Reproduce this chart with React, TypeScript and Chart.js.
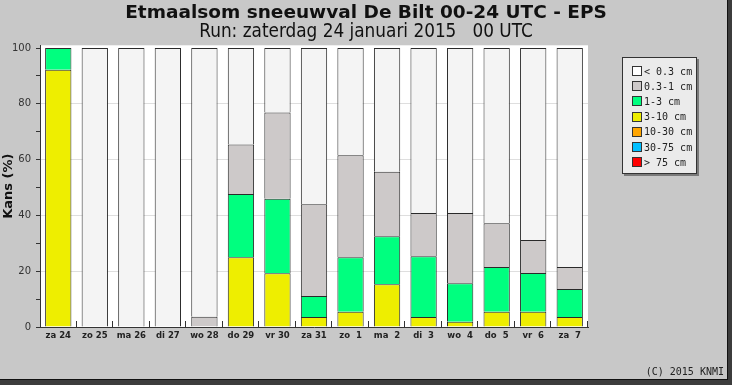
import React, { useEffect, useRef } from 'react';
import { Chart, registerables } from 'chart.js';

Chart.register(...registerables);

const categories = ['za 24', 'zo 25', 'ma 26', 'di 27', 'wo 28', 'do 29', 'vr 30', 'za 31', 'zo  1', 'ma  2', 'di  3', 'wo  4', 'do  5', 'vr  6', 'za  7'];

const over75 = [0, 0, 0, 0, 0, 0, 0, 0, 0, 0, 0, 0, 0, 0, 0];
const cm30to75 = [0, 0, 0, 0, 0, 0, 0, 0, 0, 0, 0, 0, 0, 0, 0];
const cm10to30 = [0, 0, 0, 0, 0, 0, 0, 0, 0, 0, 0, 0, 0, 0, 0];
const cm3to10 = [92.2, 0, 0, 0, 0, 25.0, 19.3, 3.6, 5.5, 15.3, 3.6, 1.9, 5.5, 5.5, 3.6];
const cm1to3 = [7.8, 0, 0, 0, 0, 22.7, 26.7, 7.5, 19.5, 17.2, 21.8, 13.8, 16.0, 13.9, 10.0];
const cm03to1 = [0, 0, 0, 0, 3.7, 17.7, 30.9, 32.9, 36.6, 23.2, 15.5, 25.2, 15.7, 11.8, 7.9];
const under03 = [0, 100, 100, 100, 96.3, 34.6, 23.1, 56.0, 38.4, 44.3, 59.1, 59.1, 62.8, 68.8, 78.5];

const yTickValues = [0, 20, 40, 60, 80, 100];

const titleText = 'Etmaalsom sneeuwval De Bilt 00-24 UTC - EPS';
const subtitleText = 'Run: zaterdag 24 januari 2015   00 UTC';
const yTitle = 'Kans (%)';
const credit = '(C) 2015 KNMI';

const series = [
  { label: '> 75 cm', data: over75, color: '#ff0000' },
  { label: '30-75 cm', data: cm30to75, color: '#00bfff' },
  { label: '10-30 cm', data: cm10to30, color: '#ffa500' },
  { label: '3-10 cm', data: cm3to10, color: '#eeee00' },
  { label: '1-3 cm', data: cm1to3, color: '#00ff7f' },
  { label: '0.3-1 cm', data: cm03to1, color: '#cdc9c9' },
  { label: '< 0.3 cm', data: under03, color: '#f4f4f4' },
];

const legendColors: Record<string, string> = {
  '< 0.3 cm': '#ffffff',
};

export default function App() {
  const ref = useRef<HTMLCanvasElement>(null);

  useEffect(() => {
    document.body.style.margin = '0';
    const canvas = ref.current!;

    const plotBg = {
      id: 'plotBg',
      beforeDraw(chart: any) {
        const { ctx, chartArea: a } = chart;
        ctx.save();
        ctx.fillStyle = '#ffffff';
        ctx.fillRect(a.left, a.top, a.right - a.left, a.bottom - a.top);
        ctx.restore();
      },
    };

    const xTicks = {
      id: 'xTicks',
      afterDatasetsDraw(chart: any) {
        const { ctx, chartArea: a } = chart;
        const n = categories.length;
        const w = (a.right - a.left) / n;
        ctx.save();
        ctx.strokeStyle = '#333';
        ctx.lineWidth = 1;
        ctx.beginPath();
        for (let i = 1; i <= n; i++) {
          const x = Math.round(a.left + i * w) - 0.5;
          ctx.moveTo(x, a.bottom);
          ctx.lineTo(x, a.bottom - 6);
        }
        ctx.stroke();
        ctx.restore();
      },
    };

    const chart = new Chart(canvas, {
      type: 'bar',
      data: {
        labels: categories,
        datasets: series.map((s) => ({
          label: s.label,
          data: s.data,
          backgroundColor: s.color,
          borderColor: '#2a2a2a',
          borderWidth: 1,
          borderSkipped: 'start',
          barPercentage: 0.72,
          categoryPercentage: 1,
          yAxisID: 'y',
        })),
      },
      options: {
        animation: false,
        responsive: false,
        devicePixelRatio: 1,
        events: [],
        layout: { padding: { top: 0, left: 0, right: 0, bottom: 0 } },
        plugins: {
          legend: { display: false },
          tooltip: { enabled: false },
          title: {
            display: true,
            text: titleText,
            color: '#111',
            font: { family: 'DejaVu Sans', size: 18.5, weight: 'bold', lineHeight: 1 },
            padding: { top: 4, bottom: 0 },
          },
          subtitle: {
            display: true,
            text: subtitleText,
            color: '#111',
            font: { family: '"Liberation Sans Narrow", "DejaVu Sans Condensed", sans-serif', size: 18.8, weight: 'normal', lineHeight: 1 },
            padding: { top: 0, bottom: 4 },
          },
        },
        scales: {
          x: {
            stacked: true,
            grid: { display: false, drawTicks: false },
            border: { display: true, color: '#333', width: 1 },
            ticks: {
              color: '#222',
              font: { family: 'DejaVu Sans', size: 8.5, weight: 'bold' },
              padding: 4,
              autoSkip: false,
              maxRotation: 0,
            },
            afterFit(scale: any) {
              scale.height = 58;
            },
          },
          y: {
            stacked: true,
            min: 0,
            max: 101,
            position: 'left',
            grid: {
              color: (c: any) =>
                c.tick && yTickValues.includes(c.tick.value) && c.tick.value > 0 && c.tick.value < 100 ? '#dedede' : 'rgba(0,0,0,0)',
              tickColor: '#333',
              tickLength: 4,
            },
            border: { display: true, color: '#333', width: 1 },
            ticks: {
              stepSize: 10,
              includeBounds: false,
              color: '#333',
              padding: 5,
              font: { family: 'DejaVu Sans', size: 10 },
              callback: (v: any) => (yTickValues.includes(Number(v)) ? String(v) : ''),
            },
            title: {
              display: true,
              text: yTitle,
              color: '#111',
              font: { family: 'DejaVu Sans', size: 13, weight: 'bold' },
              padding: { top: 1, bottom: 0 },
            },
            afterFit(scale: any) {
              scale.width = 40;
            },
          },
          r: {
            position: 'right',
            display: true,
            grid: { display: false, drawTicks: false },
            border: { display: false },
            ticks: { display: false },
            afterFit(scale: any) {
              scale.width = 144;
            },
          },
        },
      },
      plugins: [plotBg, xTicks],
    } as any);

    return () => chart.destroy();
  }, []);

  const legendItems = [...series].reverse();

  return (
    <div style={{ position: 'relative', width: 732, height: 385, background: '#3c3c3c' }}>
      <div
        style={{
          position: 'absolute',
          left: 0,
          top: 0,
          width: 727,
          height: 379,
          background: '#c8c8c8',
          borderRight: '1px solid #111',
          borderBottom: '1px solid #111',
        }}
      />
      <canvas ref={ref} width={732} height={385} style={{ position: 'absolute', left: 0, top: 0 }} />
      <div
        style={{
          position: 'absolute',
          left: 622,
          top: 57,
          width: 73,
          height: 115,
          background: '#ebebeb',
          border: '1px solid #333',
          boxShadow: '2px 2px 0 #7a7a7a',
          fontFamily: '"DejaVu Sans Mono", monospace',
          fontSize: 10,
          color: '#222',
        }}
      >
        {legendItems.map((s, i) => (
          <div
            key={s.label}
            style={{ position: 'absolute', left: 9, top: 7 + i * 15.2, height: 12, display: 'flex', alignItems: 'center', whiteSpace: 'pre' }}
          >
            <span
              style={{
                display: 'inline-block',
                width: 8,
                height: 8,
                background: legendColors[s.label] || s.color,
                border: '1px solid #333',
                marginRight: 2,
              }}
            />
            <span>{s.label}</span>
          </div>
        ))}
      </div>
      <div
        style={{
          position: 'absolute',
          right: 8,
          top: 366,
          fontFamily: '"DejaVu Sans Mono", monospace',
          fontSize: 10,
          color: '#222',
          whiteSpace: 'pre',
        }}
      >
        {credit}
      </div>
    </div>
  );
}
